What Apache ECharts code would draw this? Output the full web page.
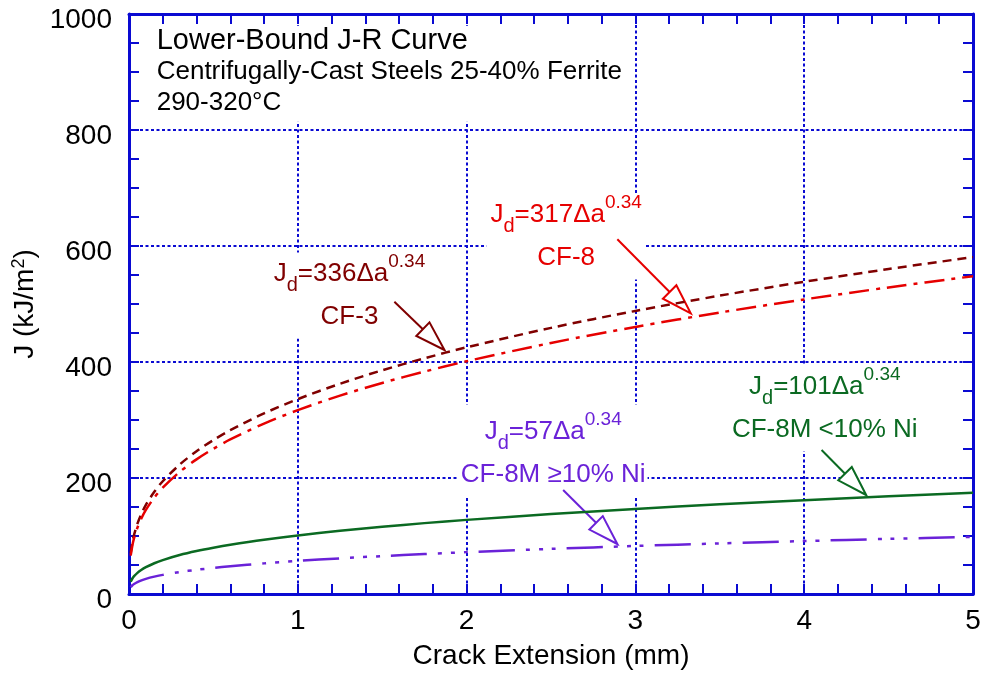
<!DOCTYPE html>
<html>
<head>
<meta charset="utf-8">
<script src="https://cdn.jsdelivr.net/npm/echarts@6/dist/echarts.min.js"></script>
<style>html,body{margin:0;padding:0;background:#fff;}#c{width:990px;height:675px;}</style>
</head>
<body>
<div id="c"></div>
<script>
// ---- data ----
const crackExt = [0.01,0.02,0.03,0.05,0.07,0.1,0.15,0.2,0.3,0.4,0.5,0.6,0.8,1.0,1.25,1.5,1.75,2.0,2.5,3.0,3.5,4.0,4.5,5.0];
const jCF3 = [70.2,88.9,102.0,121.3,136.0,153.6,176.3,194.4,223.1,246.1,265.4,282.4,311.4,336.0,362.5,385.7,406.4,425.3,458.8,488.1,514.4,538.3,560.3,580.8];
const jCF8 = [66.2,83.8,96.2,114.5,128.4,144.9,166.3,183.4,210.5,232.1,250.4,266.5,293.8,317.0,342.0,363.9,383.4,401.3,432.9,460.5,485.3,507.9,528.6,547.9];
const jCF8M_low = [21.1,26.7,30.7,36.5,40.9,46.2,53.0,58.4,67.1,74.0,79.8,84.9,93.6,101.0,109.0,115.9,122.2,127.8,137.9,146.7,154.6,161.8,168.4,174.6];
const jCF8M_high = [11.9,15.1,17.3,20.6,23.1,26.1,29.9,33.0,37.9,41.7,45.0,47.9,52.8,57.0,61.5,65.4,68.9,72.2,77.8,82.8,87.3,91.3,95.1,98.5];
const xTicks = [0,1,2,3,4,5];
const yTicks = [0,200,400,600,800,1000];

const FONT = 'Liberation Sans, Arial, Helvetica, sans-serif';
const BLUE = '#0a0ad2';
const C_CF3 = '#800000', C_CF8 = '#e60000', C_GRN = '#0b6a22', C_PUR = '#6a22d8';

const chart = echarts.init(document.getElementById('c'), null, {renderer:'canvas'});

function pairs(xs, ys){ return xs.map((x,i)=>[x, ys[i]]); }

function xAx(pos){
  const main = pos === 'bottom';
  return {
    type:'value', position:pos, min:xTicks[0], max:xTicks[xTicks.length-1], interval:1,
    axisLine:{show:true, onZero:false, lineStyle:{color:BLUE, width:3}},
    axisTick:{show:true, inside:true, length:10, lineStyle:{color:BLUE, width:2}},
    minorTick:{show:true, splitNumber:5, length:10, lineStyle:{color:BLUE, width:2}},
    splitLine:{show:main, lineStyle:{color:BLUE, width:2, type:[3,2.5]}},
    axisLabel:{show:main, fontSize:28, color:'#000', fontFamily:FONT, margin:13, formatter:v=>String(v)},
    name: main ? 'Crack Extension (mm)' : '', nameLocation:'middle', nameGap:48,
    nameTextStyle:{fontSize:28, color:'#000', fontFamily:FONT}
  };
}
function yAx(pos){
  const main = pos === 'left';
  return {
    type:'value', position:pos, min:yTicks[0], max:yTicks[yTicks.length-1], interval:200,
    axisLine:{show:true, onZero:false, lineStyle:{color:BLUE, width:3}},
    axisTick:{show:true, inside:true, length:10, lineStyle:{color:BLUE, width:2}},
    minorTick:{show:true, splitNumber:4, length:10, lineStyle:{color:BLUE, width:2}},
    splitLine:{show:main, lineStyle:{color:BLUE, width:2, type:[3,2.5]}},
    axisLabel:{show:main, fontSize:28, color:'#000', fontFamily:FONT, margin:17,
      formatter:v=>'{v|' + String(v) + '}',
      rich:{v:{fontSize:28, color:'#000', fontFamily:FONT, padding:[12,0,0,0]}}},
    name: main ? 'J (kJ/m{sup|2})' : '', nameLocation:'middle', nameGap:62,
    nameTextStyle:{fontSize:28, color:'#000', fontFamily:FONT,
      rich:{sup:{fontSize:18, color:'#000', fontFamily:FONT, verticalAlign:'top', padding:[0,0,12,0]}}}
  };
}

const seriesCommon = {type:'line', showSymbol:false, smooth:0.3, xAxisIndex:0, yAxisIndex:0, z:3, animation:false};

chart.setOption({
  animation:false,
  backgroundColor:'#fff',
  textStyle:{fontFamily:FONT},
  grid:{left:129, top:14, width:844, height:580, containLabel:false, outerBoundsMode:'none'},
  xAxis:[xAx('bottom'), xAx('top')],
  yAxis:[yAx('left'), yAx('right')],
  series:[
    Object.assign({name:'CF-3', data:pairs(crackExt, jCF3), lineStyle:{color:C_CF3, width:2.5, type:[9,6]}}, seriesCommon),
    Object.assign({name:'CF-8', data:pairs(crackExt, jCF8), lineStyle:{color:C_CF8, width:2.5, type:[20,7,4,7]}}, seriesCommon),
    Object.assign({name:'CF-8M <10% Ni', data:pairs(crackExt, jCF8M_low), lineStyle:{color:C_GRN, width:2.5}}, seriesCommon),
    Object.assign({name:'CF-8M >=10% Ni', data:pairs(crackExt, jCF8M_high), lineStyle:{color:C_PUR, width:2.5, type:[36,11,4,9,4,9,4,11]}}, seriesCommon)
  ]
});

// ---- annotations (positions in data units) ----
const annotations = [
  {coef:'336', name:'CF-3', color:C_CF3, at:[1.306, 514.5], pad:[0,8,0,8], tip:[1.869, 420.7], from:[1.572, 504]},
  {coef:'317', name:'CF-8', color:C_CF8, at:[2.590, 616.4], pad:[0,4,0,4], tip:[3.328, 484], from:[2.893, 611.6]},
  {coef:'57', name:'CF-8M \u226510% Ni', color:C_PUR, at:[2.513, 247], pad:[6,2,0,2], tip:[2.893, 86.2], from:[2.572, 179.3]},
  {coef:'101', name:'CF-8M <10% Ni', color:C_GRN, at:[4.122, 320.3], pad:[0,6,0,6], tip:[4.367, 170.7], from:[4.103, 248.3]}
];
const titleAt = [0.093, 897];

function drawGraphics(){
  const px = p => chart.convertToPixel({gridIndex:0}, p);
  const els = [];
  const tp = px(titleAt);
  els.push({
    type:'text', x:tp[0], y:tp[1], z:1,
    style:{
      text:'{t|Lower-Bound J-R Curve}\n{s|Centrifugally-Cast Steels 25-40% Ferrite}\n{s|290-320\u00B0C}',
      align:'left', verticalAlign:'middle', textAlign:'left', textVerticalAlign:'middle',
      backgroundColor:'#fff', padding:[0,6,3,12],
      rich:{
        t:{fontSize:29, lineHeight:31, fill:'#000', fontFamily:FONT},
        s:{fontSize:26, lineHeight:31, fill:'#000', fontFamily:FONT}
      }
    }
  });
  annotations.forEach(a=>{
    const c = px(a.at);
    const base = {fontSize:26, lineHeight:43, fill:a.color, fontFamily:FONT};
    els.push({
      type:'text', x:c[0], y:c[1], z:1,
      style:{
        text:'{n|J}{sub|d}{n|=' + a.coef + '\u0394a}{sup|0.34}\n{n|' + a.name + '}',
        align:'center', verticalAlign:'middle', textAlign:'center', textVerticalAlign:'middle',
        backgroundColor:'#fff', padding:a.pad,
        rich:{
          n:base,
          sub:{fontSize:20, lineHeight:20, verticalAlign:'bottom', fill:a.color, fontFamily:FONT},
          sup:{fontSize:19, lineHeight:28, verticalAlign:'top', fill:a.color, fontFamily:FONT}
        }
      }
    });
    // arrow
    const t = px(a.tip), s = px(a.from);
    const dx = t[0]-s[0], dy = t[1]-s[1];
    const len = Math.sqrt(dx*dx+dy*dy);
    const ux = dx/len, uy = dy/len, nx = -uy, ny = ux;
    const L = 30, W = 9.5;
    const bx = t[0]-L*ux, by = t[1]-L*uy;
    els.push({type:'line', z:1, shape:{x1:s[0], y1:s[1], x2:bx, y2:by}, style:{stroke:a.color, lineWidth:2}});
    els.push({type:'polygon', z:1, shape:{points:[[t[0],t[1]],[bx+W*nx, by+W*ny],[bx-W*nx, by-W*ny]]},
      style:{fill:'#fff', stroke:a.color, lineWidth:2}});
  });
  chart.setOption({graphic:{elements:els}});
}
drawGraphics();
</script>
</body>
</html>
